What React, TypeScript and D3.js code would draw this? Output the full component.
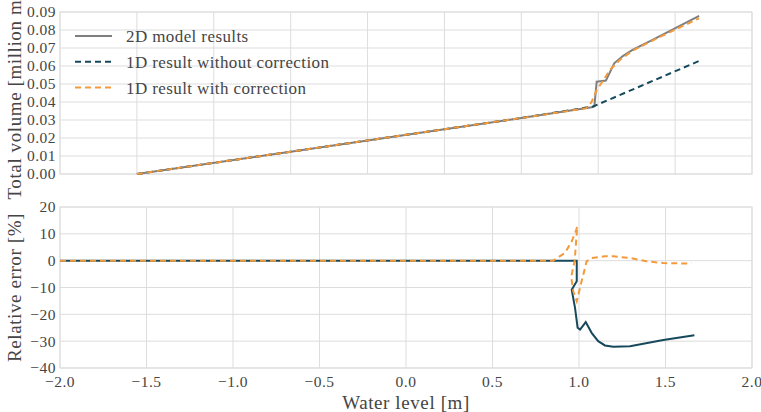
import * as d3 from 'd3'

// ---- data ----
// top panel: total volume [million m3] vs water level [m]
const vol2dLevel = [-2.0, -1.0, 0.0, 0.5, 0.957, 0.975, 0.99, 1.026, 1.05, 1.104, 1.16, 1.223, 1.35, 1.483, 1.656]
const vol2d = [0.0, 0.0124, 0.0249, 0.0311, 0.0371, 0.0376, 0.0513, 0.0517, 0.0519, 0.0615, 0.0655, 0.0689, 0.0744, 0.0802, 0.0878]

const volNoCorrLevel = [-2.0, -1.0, 0.0, 0.5, 0.967, 1.656]
const volNoCorr = [0.0, 0.0124, 0.0249, 0.0311, 0.0375, 0.0628]

const volCorrLevel = [-2.0, -1.0, 0.0, 0.5, 0.924, 0.957, 0.99, 1.033, 1.076, 1.14, 1.223, 1.35, 1.483, 1.656]
const volCorr = [0.0, 0.0124, 0.0249, 0.0311, 0.0366, 0.04, 0.0467, 0.052, 0.0578, 0.0633, 0.0685, 0.074, 0.0795, 0.0865]

// bottom panel: relative error [%]
const errNoCorrLevel = [-2.0, 0.987, 0.987, 0.958, 0.977, 0.992, 1.006, 1.039, 1.073, 1.111, 1.15, 1.198, 1.295, 1.487, 1.667]
const errNoCorr = [0, 0, -7.7, -10.8, -17.6, -25, -25.7, -22.9, -26.9, -30, -31.6, -32.1, -31.9, -29.6, -27.8]

const errCorrLevel = [-2.0, 0.85, 0.919, 0.958, 0.981, 0.99, 0.975, 0.955, 0.967, 0.987, 1.015, 1.044, 1.073, 1.15, 1.198, 1.295, 1.39, 1.487, 1.65]
const errCorr = [0, 0, 2.9, 7.2, 10.9, 12.8, 0, -6, -11.4, -15.1, -7.7, -0.3, 1.0, 1.6, 1.6, 1.0, -0.2, -0.9, -1.1]

const legendLabels = ['2D model results', '1D result without correction', '1D result with correction']

const W = 761
const H = 412
const FONT = '"Liberation Serif", "DejaVu Serif", serif'
const TEXT = '#454545'
const GRID = '#dddddd'
const GRAY = '#7f7f7f'
const TEAL = '#17495c'
const ORANGE = '#f39a3d'

const zip = (xs: number[], ys: number[]) => xs.map((x, i) => [x, ys[i]] as [number, number])

export default function App() {
  const left = 60
  const right = 752
  const top1 = 12, bot1 = 174
  const top2 = 207, bot2 = 368

  // top panel has its own x range (not shared with the error panel)
  const xTop = d3.scaleLinear().domain([-2.5, 2.0]).range([left, right])
  const yTop = d3.scaleLinear().domain([0, 0.09]).range([bot1, top1])
  const xBot = d3.scaleLinear().domain([-2.0, 2.0]).range([left, right])
  const yBot = d3.scaleLinear().domain([-40, 20]).range([bot2, top2])

  const lineTop = d3.line<[number, number]>().x(d => xTop(d[0])).y(d => yTop(d[1]))
  const lineBot = d3.line<[number, number]>().x(d => xBot(d[0])).y(d => yBot(d[1]))

  const fmtVol = d3.format('.2f')
  const fmtX = d3.format('.1f')
  const tickStyle = { fontSize: 15.5, letterSpacing: 0.5 }
  const labelStyle = { fontSize: 19, letterSpacing: 0.6 }

  return (
    <svg width={W} height={H} style={{ position: 'absolute', left: 0, top: 0, background: '#fff' }}
      fontFamily={FONT}>
      {/* ---- top panel ---- */}
      <g>
        {xTop.ticks(9).map(t => (
          <line key={'xt' + t} x1={xTop(t)} x2={xTop(t)} y1={top1} y2={bot1} stroke={GRID} />
        ))}
        {yTop.ticks(9).map(t => (
          <g key={'yt' + t}>
            <line x1={left} x2={right} y1={yTop(t)} y2={yTop(t)} stroke={GRID} />
            <text x={left - 4} y={yTop(t)} dy="0.35em" textAnchor="end" style={tickStyle} fill={TEXT}>{fmtVol(t)}</text>
          </g>
        ))}
        <rect x={left} y={top1} width={right - left} height={bot1 - top1} fill="none" stroke={GRID} />
        <path d={lineTop(zip(vol2dLevel, vol2d)) || ''} fill="none" stroke={GRAY} strokeWidth={2} />
        <path d={lineTop(zip(volNoCorrLevel, volNoCorr)) || ''} fill="none" stroke={TEAL} strokeWidth={2} strokeDasharray="6,4" />
        <path d={lineTop(zip(volCorrLevel, volCorr)) || ''} fill="none" stroke={ORANGE} strokeWidth={2} strokeDasharray="6,4" />

        {/* legend */}
        {legendLabels.map((lab, i) => {
          const y = 36 + i * 25.8
          const col = [GRAY, TEAL, ORANGE][i]
          return (
            <g key={lab}>
              <line x1={75} x2={112} y1={y} y2={y} stroke={col} strokeWidth={2}
                strokeDasharray={i === 0 ? undefined : '6,4'} />
              <text x={126} y={y} dy="0.35em" style={{ fontSize: 17, letterSpacing: 0.4 }} fill={TEXT}>{lab}</text>
            </g>
          )
        })}
        <text transform={`translate(21,${(top1 + bot1) / 2}) rotate(-90)`} textAnchor="middle" style={labelStyle} fill={TEXT}>
          Total volume [million m³]
        </text>
      </g>

      {/* ---- bottom panel ---- */}
      <g>
        {xBot.ticks(8).map(t => (
          <g key={'xb' + t}>
            <line x1={xBot(t)} x2={xBot(t)} y1={top2} y2={bot2} stroke={GRID} />
            <text x={xBot(t)} y={bot2 + 19} textAnchor="middle" style={tickStyle} fill={TEXT}>{fmtX(t)}</text>
          </g>
        ))}
        {yBot.ticks(6).map(t => (
          <g key={'yb' + t}>
            <line x1={left} x2={right} y1={yBot(t)} y2={yBot(t)} stroke={GRID} />
            <text x={left - 4} y={yBot(t)} dy="0.35em" textAnchor="end" style={tickStyle} fill={TEXT}>{d3.format('d')(t)}</text>
          </g>
        ))}
        <rect x={left} y={top2} width={right - left} height={bot2 - top2} fill="none" stroke={GRID} />
        <path d={lineBot(zip(errNoCorrLevel, errNoCorr)) || ''} fill="none" stroke={TEAL} strokeWidth={2} />
        <path d={lineBot(zip(errCorrLevel, errCorr)) || ''} fill="none" stroke={ORANGE} strokeWidth={2} strokeDasharray="6,4" />

        <text transform={`translate(21,${(top2 + bot2) / 2}) rotate(-90)`} textAnchor="middle" style={labelStyle} fill={TEXT}>
          Relative error [%]
        </text>
        <text x={(left + right) / 2} y={409} textAnchor="middle" style={labelStyle} fill={TEXT}>Water level [m]</text>
      </g>
    </svg>
  )
}
